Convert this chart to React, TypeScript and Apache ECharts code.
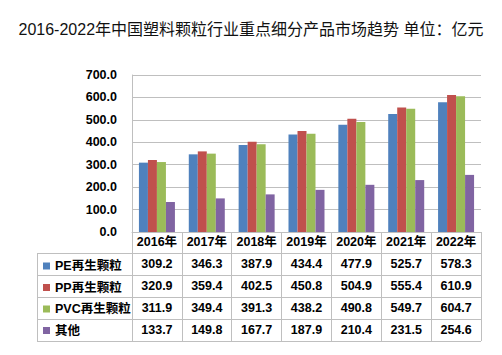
import React, { useEffect, useRef } from "react";
import * as echarts from "echarts";

const years = ["2016年", "2017年", "2018年", "2019年", "2020年", "2021年", "2022年"];
const seriesNames = ["PE再生颗粒", "PP再生颗粒", "PVC再生颗粒", "其他"];
const peValues = [309.2, 346.3, 387.9, 434.4, 477.9, 525.7, 578.3];
const ppValues = [320.9, 359.4, 402.5, 450.8, 504.9, 555.4, 610.9];
const pvcValues = [311.9, 349.4, 391.3, 438.2, 490.8, 549.7, 604.7];
const otherValues = [133.7, 149.8, 167.7, 187.9, 210.4, 231.5, 254.6];
const colors = ["#4F81BD", "#C0504D", "#9BBB59", "#8064A2"];
const titleText = "2016-2022年中国塑料颗粒行业重点细分产品市场趋势 单位：亿元";

const FONT = "'Liberation Sans', 'Noto Sans CJK SC', sans-serif";
const LINE = "#BFBFBF";

export default function App() {
  const ref = useRef<HTMLDivElement>(null);
  useEffect(() => {
    if (!ref.current) return;
    const chart = echarts.init(ref.current, undefined, { renderer: "svg" });
    const allValues = [peValues, ppValues, pvcValues, otherValues];
    const gridLeft = 132, gridRight = 481, axisY = 232;
    const tableLeft = 37;
    const rowLines = [253, 275, 297, 319, 341];
    const labelStyle = { fontFamily: FONT, fontWeight: "bold" as const, fontSize: 12.5, color: "#000" };

    const extraAxes = allValues.map((vals, k) => ({
      type: "category" as const,
      gridIndex: 0,
      position: "bottom" as const,
      offset: 22 * (k + 1),
      data: vals.map((v) => v.toFixed(1)),
      axisLine: { show: false },
      axisTick: { show: false },
      splitLine: { show: false },
      axisLabel: { ...labelStyle, interval: 0, margin: 10, verticalAlign: "middle" },
    }));

    const graphics: any[] = rowLines.map((y) => ({
      type: "line",
      shape: { x1: tableLeft, y1: y + 0.5, x2: gridRight, y2: y + 0.5 },
      style: { stroke: LINE, lineWidth: 1 },
      silent: true,
    }));
    graphics.push({
      type: "line",
      shape: { x1: tableLeft + 0.5, y1: rowLines[0], x2: tableLeft + 0.5, y2: rowLines[rowLines.length - 1] },
      style: { stroke: LINE, lineWidth: 1 },
      silent: true,
    });

    chart.setOption({
      animation: false,
      color: colors,
      title: {
        text: titleText,
        left: "center",
        top: 16,
        textStyle: { fontFamily: FONT, fontSize: 16, fontWeight: "normal", color: "#111" },
      },
      legend: {
        orient: "vertical",
        left: 38,
        top: 254,
        itemWidth: 7,
        itemHeight: 7,
        itemGap: 7.5,
        icon: "rect",
        selectedMode: false,
        data: seriesNames,
        textStyle: { ...labelStyle, fontSize: 12.5, lineHeight: 14 },
      },
      grid: { left: gridLeft, right: 502 - gridRight, top: 75, bottom: 355 - axisY, containLabel: false },
      xAxis: [
        {
          type: "category",
          data: years,
          axisLine: { lineStyle: { color: LINE, width: 1 } },
          axisTick: { show: true, length: 109, interval: 0, lineStyle: { color: LINE, width: 1 } },
          axisLabel: { ...labelStyle, interval: 0, margin: 10, verticalAlign: "middle" },
        },
        ...extraAxes,
      ],
      yAxis: {
        type: "value",
        min: 0,
        max: 700,
        interval: 100,
        axisLine: { show: true, lineStyle: { color: LINE, width: 1 } },
        axisTick: { show: false },
        splitLine: { lineStyle: { color: LINE, width: 1 } },
        axisLabel: { ...labelStyle, margin: 15, formatter: (v: number) => v.toFixed(1) },
      },
      series: allValues.map((vals, i) => ({
        name: seriesNames[i],
        type: "bar",
        xAxisIndex: 0,
        data: vals,
        barWidth: 9,
        barGap: "0%",
        itemStyle: { color: colors[i] },
      })),
      graphic: graphics,
    });
    return () => chart.dispose();
  }, []);
  return <div ref={ref} style={{ width: 502, height: 355, position: "absolute", left: 0, top: 0 }} />;
}
